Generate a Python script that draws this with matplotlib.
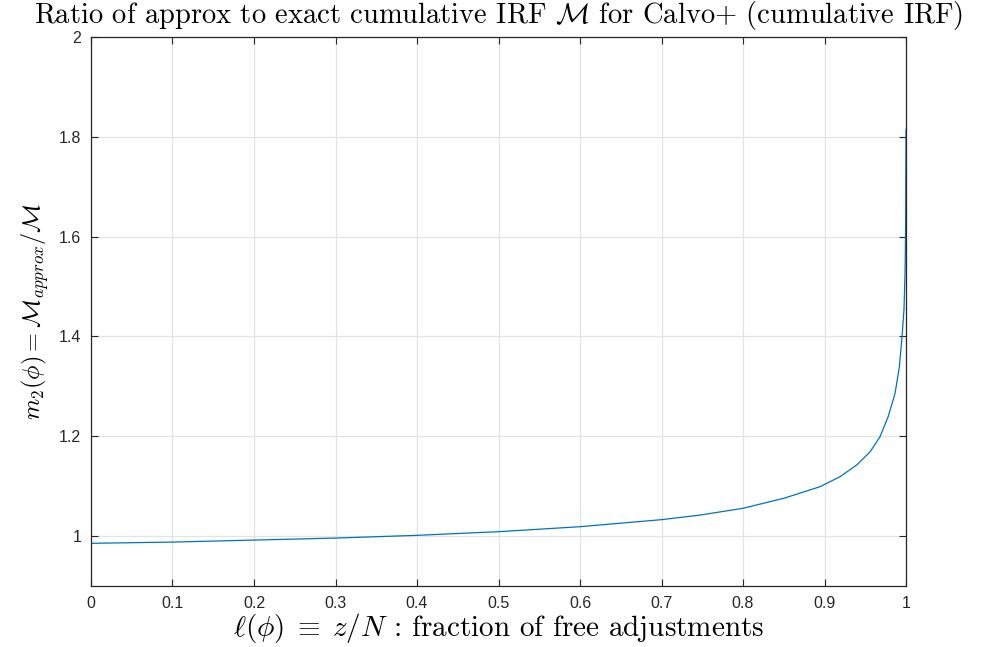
import matplotlib
matplotlib.use("Agg")
import matplotlib.pyplot as plt

plt.rcParams['mathtext.fontset'] = 'cm'
plt.rcParams['font.family'] = ['Liberation Sans', 'DejaVu Sans']

# values
ell = [0.0, 0.1, 0.2, 0.3, 0.4, 0.5, 0.6, 0.7, 0.747, 0.8, 0.85, 0.8945,
       0.919, 0.9395, 0.956, 0.968, 0.978, 0.9865, 0.9918, 0.9951, 0.9975,
       0.9988, 0.9995, 1.0]
m2 = [0.9855, 0.988, 0.992, 0.996, 1.0015, 1.0088, 1.0188, 1.0329, 1.042,
      1.0557, 1.0757, 1.099, 1.119, 1.1425, 1.169, 1.199, 1.239, 1.286,
      1.339, 1.40, 1.455, 1.53, 1.62, 1.815]

xticks = [0, 0.1, 0.2, 0.3, 0.4, 0.5, 0.6, 0.7, 0.8, 0.9, 1]
xticklabels = ["0", "0.1", "0.2", "0.3", "0.4", "0.5", "0.6", "0.7", "0.8", "0.9", "1"]
yticks = [1, 1.2, 1.4, 1.6, 1.8, 2]
yticklabels = ["1", "1.2", "1.4", "1.6", "1.8", "2"]

fig = plt.figure(figsize=(9.9, 6.47), dpi=100)
ax = fig.add_axes([0.0919, 0.0943, 0.8233, 0.8485])

ax.plot(ell, m2, color='#0072BD', lw=0.9)

ax.set_xlim(0, 1)
ax.set_ylim(0.9, 2)
ax.set_xticks(xticks)
ax.set_xticklabels(xticklabels)
ax.set_yticks(yticks)
ax.set_yticklabels(yticklabels)
ax.grid(True, color='#e3e3e3', lw=0.9)
ax.set_axisbelow(True)

ax.tick_params(direction='in', top=True, right=True, length=5, width=0.8,
               colors='#262626', labelsize=11.5, pad=7)
for s in ax.spines.values():
    s.set_color('#262626')
    s.set_linewidth(0.9)

ax.set_title(r"Ratio of approx to exact cumulative IRF $\mathcal{M}$ for Calvo+ (cumulative IRF)",
             family='cmr10', fontsize=20.5, pad=10)
ax.set_xlabel(r"$\ell(\phi)\;\equiv\;z/N$ : fraction of free adjustments",
              family='cmr10', fontsize=21, labelpad=0)
ax.set_ylabel(r"$m_2(\phi) = \mathcal{M}_{approx}/\mathcal{M}$", fontsize=17.5, labelpad=6)

fig.savefig("out.png", dpi=100)
